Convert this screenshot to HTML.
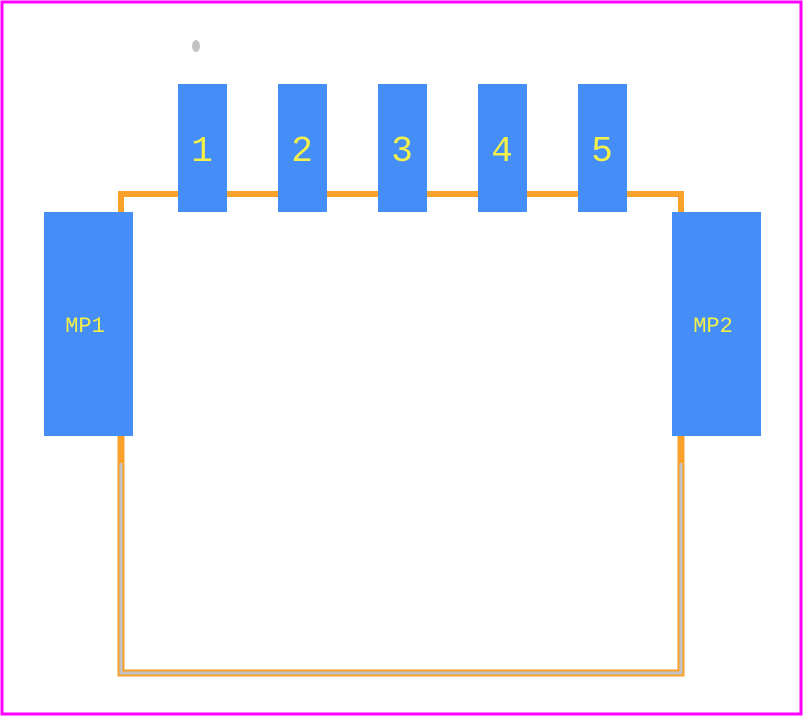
<!DOCTYPE html>
<html><head><style>html,body{margin:0;padding:0;background:#fff}</style></head><body>
<svg width="803" height="718" xmlns="http://www.w3.org/2000/svg" style="display:block">
<rect x="2" y="2" width="799" height="712" fill="none" stroke="#ff00ff" stroke-width="3"/>
<polyline points="121,212 121,194 681,194 681,212" fill="none" stroke="#f9a12b" stroke-width="6"/>
<polyline points="121,436 121,673 681,673 681,436" fill="none" stroke="#f9a12b" stroke-width="7"/>
<polyline points="121,463 121,673 681,673 681,463" fill="none" stroke="#c3c3c3" stroke-width="3"/>
<ellipse cx="196" cy="46" rx="4" ry="6" fill="#c3c3c3"/>
<g fill="#458ef7">
<rect x="178" y="84" width="49" height="128"/>
<rect x="278" y="84" width="49" height="128"/>
<rect x="378" y="84" width="49" height="128"/>
<rect x="478" y="84" width="49" height="128"/>
<rect x="578" y="84" width="49" height="128"/>
<rect x="44" y="212" width="89" height="224"/>
<rect x="672" y="212" width="89" height="224"/>
</g>
<g fill="#f4f04a" font-family="Liberation Mono, monospace" text-anchor="middle">
<text x="202" y="161" font-size="36">1</text>
<text x="302" y="161" font-size="36">2</text>
<text x="402" y="161" font-size="36">3</text>
<text x="502" y="161" font-size="36">4</text>
<text x="602" y="161" font-size="36">5</text>
<text x="85" y="332" font-size="22">MP1</text>
<text x="713" y="332" font-size="22">MP2</text>
</g>
</svg>
</body></html>
